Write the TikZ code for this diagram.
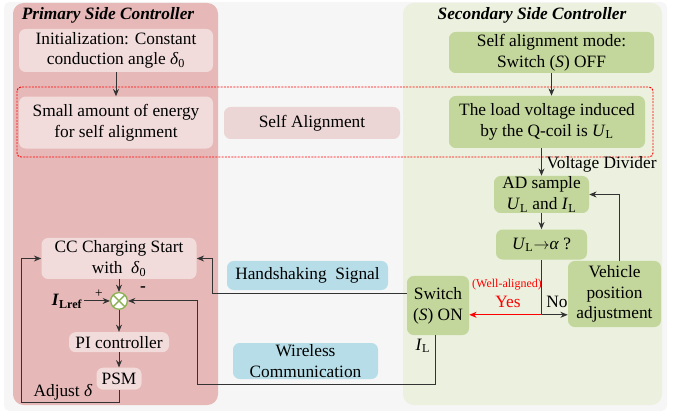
\documentclass[tikz,border=0pt]{standalone}
\usepackage{fontspec}
\setmainfont{Liberation Serif}
\usepackage{tikz}
\usetikzlibrary{arrows.meta, positioning, calc}

\definecolor{pinkpanel}{HTML}{E6B9B8}
\definecolor{pinkbox}{HTML}{F2DCDB}
\definecolor{pinkmid}{HTML}{ECD5D5}
\definecolor{greenpanel}{HTML}{EBF1DE}
\definecolor{greenbox}{HTML}{C3D69B}
\definecolor{bluebox}{HTML}{B7DEE8}
\definecolor{bggray}{HTML}{F6F6F6}
\definecolor{sumgreen}{HTML}{8DB255}
\definecolor{linegray}{HTML}{333333}

\newcommand{\UL}{\textit{U}\textsubscript{L}}
\newcommand{\IL}{\textit{I}\textsubscript{L}}
\newcommand{\dz}{\textit{δ}\textsubscript{0}}
\newcommand{\boxfont}{\fontsize{13}{15.5}\selectfont}

\begin{document}
\begin{tikzpicture}[
    x=0.75pt, y=-0.75pt,
    every node/.style={font=\boxfont},
    pbox/.style={rectangle, rounded corners=5pt, fill=pinkbox, align=center,
                 inner sep=0pt},
    gbox/.style={rectangle, rounded corners=5pt, fill=greenbox, align=center,
                 inner sep=0pt},
    cbox/.style={rectangle, rounded corners=5pt, fill=bluebox, align=center,
                 inner sep=0pt},
    sumnode/.style={circle, draw=sumgreen, fill=white, line width=1pt,
                    minimum size=12.5pt, inner sep=0pt,
                    path picture={\draw[sumgreen, line width=1pt]
                      (path picture bounding box.north west) --
                      (path picture bounding box.south east)
                      (path picture bounding box.north east) --
                      (path picture bounding box.south west);}},
    arrow/.style={-{Stealth[length=5.5pt, width=4.5pt]}, line width=0.75pt,
                  draw=linegray},
    line/.style={line width=0.75pt, draw=linegray},
    title/.style={font=\boxfont\bfseries\itshape},
    tag/.style={inner sep=1pt},
]
\useasboundingbox (0,0) rectangle (685,413);

% ── Panels ──
\fill[bggray, rounded corners=4pt] (4,2) rectangle (667,411);
\fill[pinkpanel, rounded corners=8pt] (13,3) rectangle (218,405);
\fill[greenpanel, rounded corners=8pt] (403,3) rectangle (662,405);
\draw[red, dash pattern=on 1.5pt off 0.9pt, line width=0.7pt, rounded corners=3pt]
  (17,87) rectangle (653,157);

\node[title] (ptitle) at (108,15) {Primary Side Controller};
\node[title] (stitle) at (532,15) {Secondary Side Controller};

% ── Primary side ──
\node[pbox, minimum width=145.5pt, minimum height=32.25pt] (init) at (116,50.5)
  {Initialization: Constant\\conduction angle \dz};
\node[pbox, minimum width=145.5pt, minimum height=39pt, below=18pt of init] (energy)
  {Small amount of energy\\for self alignment};

\node[pbox, minimum width=116.25pt, minimum height=30.75pt] (cc) at (119,258.5)
  {CC Charging Start\\with\ \ \dz};
\node[sumnode, below=9.5pt of cc] (sum) {};
\node[pbox, minimum width=75pt, minimum height=15pt, below=16.5pt of sum] (pi)
  {PI controller};
\node[pbox, minimum width=33.75pt, minimum height=16.5pt, below=11.25pt of pi] (psm)
  {PSM};
\node[tag, left=19.5pt of sum] (iref)
  {\textbf{\textit{I}}\textbf{\textsubscript{Lref}}};

% ── Middle ──
\node[pbox, fill=pinkmid, minimum width=132pt, minimum height=24pt] (selfal) at (312,123)
  {Self Alignment};
\node[cbox, minimum width=120.75pt, minimum height=21.75pt] (hand) at (307.5,275.5)
  {Handshaking\ \ Signal};
\node[cbox, minimum width=108.75pt, minimum height=27pt] (wire) at (305.5,361)
  {Wireless\\Communication};

% ── Secondary side ──
\node[gbox, minimum width=153.75pt, minimum height=30.75pt] (mode) at (551.5,52.5)
  {Self alignment mode:\\Switch (\textit{S}) OFF};
\node[gbox, minimum width=147pt, minimum height=39pt] (load) at (547,122)
  {The load voltage induced\\by the Q-coil is \UL};
\node[gbox, minimum width=71.25pt, minimum height=27.75pt] (ad) at (541.5,194.5)
  {AD sample\\\UL{} and \IL};
\node[gbox, minimum width=68.25pt, minimum height=22.5pt, below=12pt of ad] (cmp)
  {\UL$\rightarrow$\textit{α} ?};
\node[gbox, minimum width=69.75pt, minimum height=49.5pt] (veh) at (614.5,294)
  {Vehicle\\position\\adjustment};
\node[gbox, minimum width=46.5pt, minimum height=44.25pt] (sw) at (438,305.5)
  {Switch\\(\textit{S}) ON};

% ── Arrows ──
\draw[arrow] (init) -- (energy);
\draw[arrow] (mode.south) -- (mode.south |- load.north);
\draw[arrow] (ad.north |- load.south) -- (ad.north);
\draw[arrow] (ad.south) -- (ad.south |- cmp.north);
\coordinate (split) at ($(cmp.south)+(0,55)$);
\draw[line] (cmp.south) -- (split);
\draw[arrow] (split) -- (split -| veh.west);
\draw[arrow, draw=red] (split) -- (split -| sw.east);
\draw[arrow] ([xshift=4pt]veh.north) |- (ad.east);

\coordinate (hs) at (212,293);
\draw[arrow] (sw.west |- hs) -- (hs) |- (cc.east);
\coordinate (wc) at (197,384);
\draw[arrow] ([xshift=-2pt]sw.south) |- (wc) |- (sum.east);

\draw[arrow] (cc) -- (sum);
\draw[arrow] (sum) -- (pi);
\draw[arrow] (pi) -- (psm);
\draw[arrow] (iref) -- (sum);
\coordinate (fb) at (21,402);
\draw[arrow] (psm.south) |- (fb) |- (cc.west);

% ── Labels ──
\node[tag, anchor=west] (vdiv) at (545,164) {Voltage Divider};
\node[tag] (no) at (557,302) {No};
\node[tag, text=red] (yes) at (508,302) {Yes};
\node[tag, text=red, font=\fontsize{9}{10}\selectfont] (well) at (507,285)
  {(Well-aligned)};
\node[tag] (ilab) at (423,346) {\IL};
\node[tag, font=\fontsize{13}{14}\selectfont\bfseries] (minus) at (143,289) {-};
\node[tag, font=\fontsize{10}{11}\selectfont] (plus) at (99,294) {+};
\node[tag] (adj) at (63,392) {Adjust \textit{δ}};

\end{tikzpicture}
\end{document}
